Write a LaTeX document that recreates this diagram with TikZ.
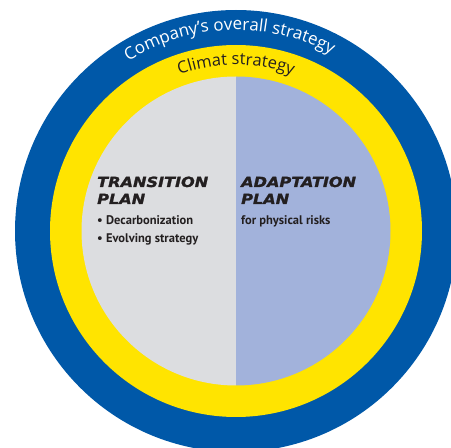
\documentclass[tikz,border=0pt]{standalone}
\usepackage{fontspec}
\setmainfont{Open Sans}
\newfontfamily\titlefont[FakeStretch=1.15,FakeBold=1.6]{DejaVu Sans}
\newfontfamily\bodyfont{PT Sans}
\usetikzlibrary{decorations.text}
\definecolor{outerblue}{RGB}{0,88,168}
\definecolor{ringyellow}{RGB}{255,228,0}
\definecolor{leftgrey}{RGB}{220,221,224}
\definecolor{rightblue}{RGB}{162,178,219}
\definecolor{textdark}{RGB}{35,31,32}
\tikzset{
  titletext/.style={anchor=base west, inner sep=0pt, text=textdark, font=\titlefont\bfseries\itshape\fontsize{14}{14}\selectfont},
  bodytext/.style={anchor=base west, inner sep=0pt, text=textdark, font=\bodyfont\bfseries\fontsize{12.5}{12.5}\selectfont},
}
\begin{document}
\begin{tikzpicture}[x=1pt,y=1pt]
\useasboundingbox (0,0) rectangle (451,448);
\clip (0,0) rectangle (451,448);
\coordinate (c) at (236,217);
\fill[outerblue] (c) circle (221);
\fill[ringyellow] (c) circle (186);
\fill[leftgrey] (c) ++(90:154.5) arc (90:270:154.5) -- cycle;
\fill[rightblue] (c) ++(90:154.5) arc (90:-90:154.5) -- cycle;
\path[decorate, decoration={text along path, text align=center,
  text={|\fontsize{17}{17}\selectfont\color{white}|Company’s overall strategy}}]
  (c) ++(152:201) arc (152:32:201);
\path[decorate, decoration={text along path, text align=center,
  text={|\fontsize{16.5}{16.5}\selectfont\color{textdark}|Climat strategy}}]
  (c) ++(150:166) arc (150:30:166);
\node[titletext] (t1) at (97,261) {TRANSITION};
\node[titletext] (t2) at (97,244) {PLAN};
\node[bodytext] (b1) at (97,223) {\textbullet\ Decarbonization};
\node[bodytext] (b2) at (97,205) {\textbullet\ Evolving strategy};
\node[titletext] (a1) at (241,261) {ADAPTATION};
\node[titletext] (a2) at (241,244) {PLAN};
\node[bodytext] (a3) at (241,223) {for physical risks};
\end{tikzpicture}
\end{document}
